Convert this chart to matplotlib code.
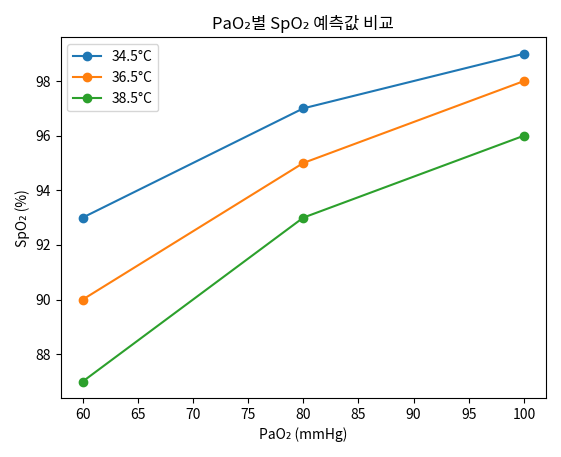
import matplotlib
matplotlib.use("Agg")
import matplotlib.pyplot as plt

plt.rcParams['font.family'] = ['Noto Sans CJK KR', 'DejaVu Sans']

pao2 = [60, 80, 100]
labels = ["34.5°C", "36.5°C", "38.5°C"]
spo2_345 = [93, 97, 99]
spo2_365 = [90, 95, 98]
spo2_385 = [87, 93, 96]

fig, ax = plt.subplots(figsize=(5.61, 4.57), dpi=100)
for vals, lab in zip([spo2_345, spo2_365, spo2_385], labels):
    ax.plot(pao2, vals, marker='o', label=lab)
ax.set_title("PaO₂별 SpO₂ 예측값 비교")
ax.set_xlabel("PaO₂ (mmHg)")
ax.set_ylabel("SpO₂ (%)")
ax.legend(loc='upper left')
fig.tight_layout()
fig.savefig("out.png")
